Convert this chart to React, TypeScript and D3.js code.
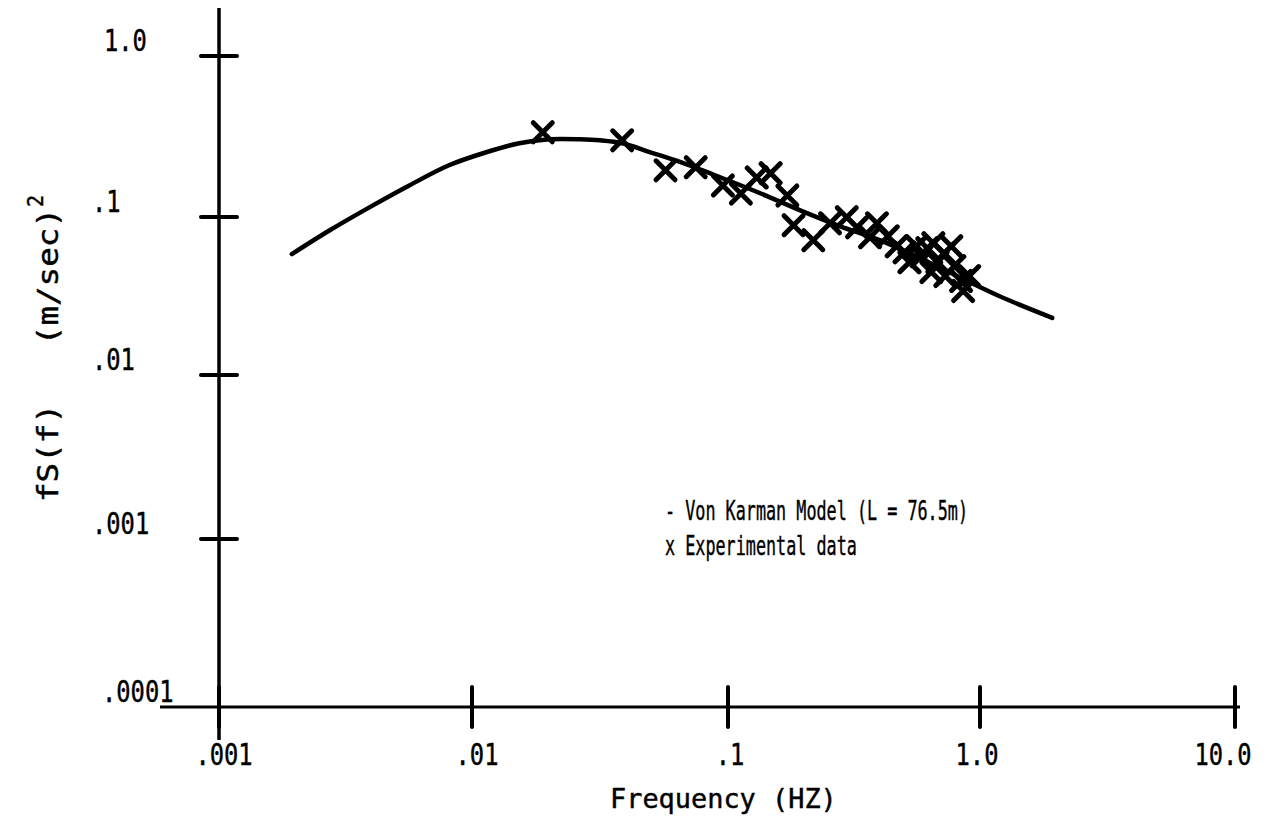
import React from "react";
import * as d3 from "d3";

// ---------- data ----------
const xTicks = [0.001, 0.01, 0.1, 1, 10];
const xTickLabels = [".001", ".01", ".1", "1.0", "10.0"];
const yTicks = [1, 0.1, 0.01, 0.001, 0.0001];
const yTickLabels = ["1.0", ".1", ".01", ".001", ".0001"];

// Von Karman model curve
const modelFreq = [0.00194, 0.00274, 0.00393, 0.00565, 0.00811, 0.0117, 0.0153, 0.0201, 0.0264, 0.0316, 0.0386, 0.0498, 0.0653, 0.0937, 0.135, 0.1935, 0.279, 0.4, 0.575, 0.826, 1.188, 1.92];
const modelPower = [0.0582, 0.0824, 0.1148, 0.157, 0.2095, 0.256, 0.287, 0.304, 0.304, 0.2995, 0.287, 0.252, 0.219, 0.176, 0.14, 0.11, 0.0873, 0.0713, 0.055, 0.0417, 0.0316, 0.023];

// Experimental data
const expFreq = [0.0189, 0.0386, 0.057, 0.0748, 0.0955, 0.1125, 0.13, 0.1476, 0.172, 0.182, 0.218, 0.254, 0.296, 0.325, 0.366, 0.39, 0.431, 0.467, 0.502, 0.525, 0.56, 0.586, 0.618, 0.653, 0.678, 0.641, 0.721, 0.769, 0.791, 0.728, 0.841, 0.857, 0.906];
const expPower = [0.336, 0.2995, 0.195, 0.204, 0.157, 0.14, 0.176, 0.187, 0.136, 0.0888, 0.0713, 0.0912, 0.0996, 0.086, 0.0745, 0.0912, 0.0755, 0.0653, 0.0598, 0.0518, 0.0653, 0.0565, 0.0635, 0.0683, 0.0518, 0.0448, 0.059, 0.0653, 0.0489, 0.0423, 0.0394, 0.034, 0.0423];

const legendLines = ["- Von Karman Model (L = 76.5m)", "x Experimental data"];
const xTitle = "Frequency (HZ)";
const yTitle = "fS(f)   (m/sec)";
const yTitleSup = "2";

// ---------- layout ----------
const W = 1282;
const H = 826;
const FONT = "DejaVu Sans Mono";
const xScale = d3.scaleLog().domain(xTicks).range([219, 472, 728, 980, 1235]);
const yScale = d3.scaleLog().domain(yTicks).range([56, 217, 375, 539, 707]);
const yLabelX = [104, 92, 92, 92, 102];
const xLabelDx = [5, 5, 2, -3, -12];

function MonoText(props: {
  x: number; y: number; text: string; size: number; pitch: number;
  anchor?: "start" | "middle" | "end"; transform?: string; weight?: number;
}) {
  const { x, y, text, size, pitch, anchor = "start", transform, weight = 0.45 } = props;
  const len = text.length * pitch;
  const x0 = anchor === "start" ? x : anchor === "middle" ? x - len / 2 : x - len;
  return (
    <text
      x={x0}
      y={y}
      fontSize={size}
      fontFamily={FONT}
      textLength={len}
      lengthAdjust="spacingAndGlyphs"
      fill="#000"
      stroke="#000"
      strokeWidth={weight}
      transform={transform}
      style={{ whiteSpace: "pre" }}
    >
      {text}
    </text>
  );
}

export default function App() {
  const axisX = xScale(0.001);
  const axisY = yScale(0.0001);
  const line = d3
    .line<number>()
    .x((_, i) => xScale(modelFreq[i]))
    .y((_, i) => yScale(modelPower[i]))
    .curve(d3.curveCatmullRom.alpha(0.5));
  const arm = 9.5;
  const pitchY = 19.6;

  return (
    <div style={{ position: "absolute", left: 0, top: 0 }}>
      <svg width={W} height={H} style={{ display: "block", background: "#fff" }}>
        <rect width={W} height={H} fill="#fff" />
        {/* axes */}
        <line x1={axisX} x2={axisX} y1={8} y2={740} stroke="#000" strokeWidth={3.5} />
        <line x1={160} x2={1240} y1={axisY} y2={axisY} stroke="#000" strokeWidth={3} />
        {yTicks.map((t, i) => (
          <g key={"yt" + i}>
            {i < yTicks.length - 1 && (
              <line x1={axisX - 18} x2={axisX + 18} y1={yScale(t)} y2={yScale(t)} stroke="#000" strokeWidth={4} strokeLinecap="round" />
            )}
            <MonoText x={yLabelX[i]} y={yScale(t) - 5} text={yTickLabels[i]} size={30} pitch={14.3} />
          </g>
        ))}
        {xTicks.map((t, i) => (
          <g key={"xt" + i}>
            <line x1={xScale(t)} x2={xScale(t)} y1={axisY - 20} y2={axisY + 20} stroke="#000" strokeWidth={4} strokeLinecap="round" />
            <MonoText x={xScale(t) + xLabelDx[i]} y={765} text={xTickLabels[i]} size={30} pitch={14.3} anchor="middle" />
          </g>
        ))}

        {/* model curve */}
        <path d={line(modelFreq) || ""} fill="none" stroke="#000" strokeWidth={4.5} strokeLinecap="round" strokeLinejoin="round" />

        {/* experimental data */}
        {expFreq.map((f, i) => {
          const cx = xScale(f);
          const cy = yScale(expPower[i]);
          return (
            <path
              key={"p" + i}
              d={`M${cx - arm},${cy - arm}L${cx + arm},${cy + arm}M${cx - arm},${cy + arm}L${cx + arm},${cy - arm}`}
              stroke="#000"
              strokeWidth={5}
              strokeLinecap="round"
              fill="none"
            />
          );
        })}

        {/* legend */}
        {legendLines.map((s, i) => (
          <MonoText key={"lg" + i} x={665} y={520 + i * 35} text={s} size={26} pitch={10.1} weight={0.4} />
        ))}

        {/* titles */}
        <MonoText x={610} y={808} text={xTitle} size={27} pitch={16.2} />
        <g transform="translate(58,502) rotate(-90)">
          <MonoText x={0} y={0} text={yTitle} size={29} pitch={pitchY} />
          <MonoText x={yTitle.length * pitchY + 1} y={-15} text={yTitleSup} size={21} pitch={12} />
        </g>
      </svg>
    </div>
  );
}
